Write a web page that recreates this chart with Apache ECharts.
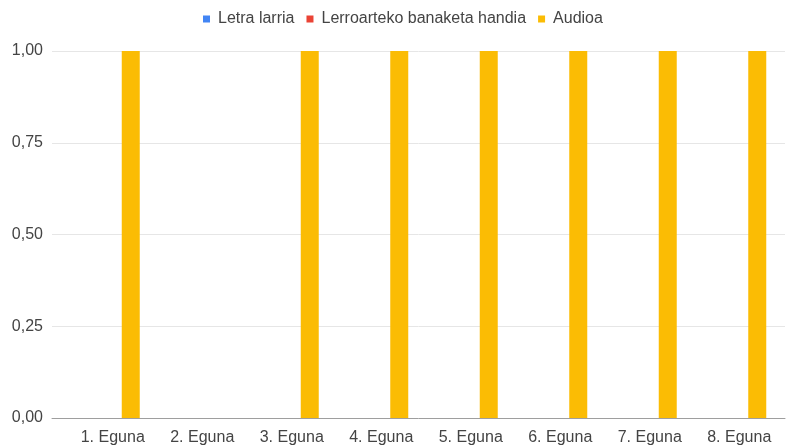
<!DOCTYPE html>
<html>
<head>
<meta charset="utf-8">
<script src="https://cdn.jsdelivr.net/npm/echarts@6/dist/echarts.min.js"></script>
<style>
  html, body { margin: 0; padding: 0; background: #fff; }
  #chart { width: 790px; height: 446px; }
</style>
</head>
<body>
<div id="chart"></div>
<script>
const days = ['1. Eguna', '2. Eguna', '3. Eguna', '4. Eguna', '5. Eguna', '6. Eguna', '7. Eguna', '8. Eguna']
const letraLarria = [0, 0, 0, 0, 0, 0, 0, 0]
const lerroarteko = [0, 0, 0, 0, 0, 0, 0, 0]
const audioa = [1, 0, 1, 1, 1, 1, 1, 1]
const yTicks = [0, 0.25, 0.5, 0.75, 1]

const font = '"Liberation Sans", Arial, sans-serif'
const chart = echarts.init(document.getElementById('chart'))

chart.setOption({
  animation: false,
  color: ['#4285F4', '#EA4335', '#FBBC04'],
  legend: {
    top: 6,
    left: 198,
    icon: 'rect',
    itemWidth: 7,
    itemHeight: 7,
    itemGap: 12,
    textStyle: { fontFamily: font, fontSize: 16, color: '#444', padding: [0, 0, 0, 3] },
    data: ['Letra larria', 'Lerroarteko banaketa handia', 'Audioa'],
  },
  grid: [
    // gridlines and baseline span the full width
    { left: 52, right: 5, top: 51, bottom: 28 },
    // bars
    { left: 68, right: 6, top: 51, bottom: 28 },
  ],
  xAxis: [
    {
      gridIndex: 0,
      type: 'value',
      min: 0,
      max: 1,
      axisLine: { show: true, lineStyle: { color: '#9e9e9e', width: 1 } },
      axisTick: { show: false },
      axisLabel: { show: false },
      splitLine: { show: false },
    },
    {
      gridIndex: 1,
      type: 'category',
      data: days,
      axisLine: { show: false },
      axisTick: { show: false },
      axisLabel: { margin: 12, fontFamily: font, fontSize: 16, color: '#444' },
    },
  ],
  yAxis: [
    {
      gridIndex: 0,
      type: 'value',
      min: yTicks[0],
      max: yTicks[yTicks.length - 1],
      interval: 0.25,
      axisLine: { show: false },
      axisTick: { show: false },
      axisLabel: {
        margin: 9,
        fontFamily: font,
        fontSize: 16,
        color: '#444',
        formatter: (v) => v.toFixed(2).replace('.', ','),
      },
      splitLine: { lineStyle: { color: '#e6e6e6' } },
    },
    {
      gridIndex: 1,
      type: 'value',
      min: 0,
      max: 1,
      show: false,
      splitLine: { show: false },
    },
  ],
  series: [
    { name: 'Letra larria', type: 'bar', xAxisIndex: 1, yAxisIndex: 1, barWidth: 18, barGap: '0%', data: letraLarria },
    { name: 'Lerroarteko banaketa handia', type: 'bar', xAxisIndex: 1, yAxisIndex: 1, barWidth: 18, barGap: '0%', data: lerroarteko },
    { name: 'Audioa', type: 'bar', xAxisIndex: 1, yAxisIndex: 1, barWidth: 18, barGap: '0%', data: audioa },
  ],
})
</script>
</body>
</html>
